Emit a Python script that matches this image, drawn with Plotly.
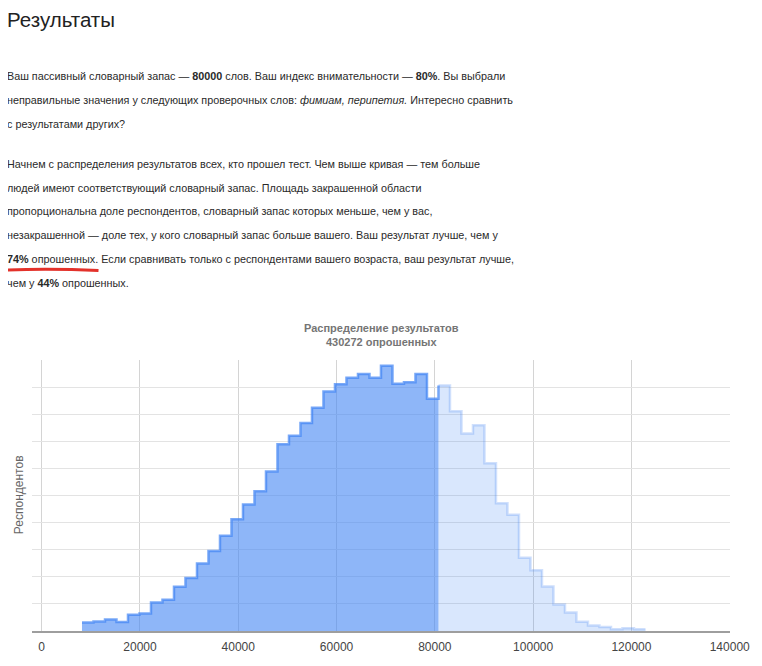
import numpy as np
import plotly.graph_objects as go

# ---------------- data ----------------
bin_start = 8200          # first bin left edge (words)
bin_width = 2340          # bin width (words)
respondents = [
    620, 700, 840, 660, 1200, 1300, 2100, 2300, 3260, 3920,
    4980, 5900, 7040, 8260, 9340, 10320, 11780, 13780, 14420, 15360,
    16480, 17680, 18220, 18700, 18980, 18700, 19580, 18260, 18360, 18980,
    17140, 18120, 16220, 14580, 15200, 12380, 9440, 8580, 5400, 4480,
    3280, 1960, 1360, 680, 400, 300, 120, 200, 120,
]
user_bins = 31            # bins below the user's result (shaded)
x_ticks = [0, 20000, 40000, 60000, 80000, 100000, 120000, 140000]
x_tick_labels = ["0", "20000", "40000", "60000", "80000", "100000", "120000", "140000"]

chart_title = "<b>Распределение результатов</b><br><b>430272 опрошенных</b>"
y_title = "Респондентов"

heading = "Результаты"
paragraph1 = [
    "Ваш пассивный словарный запас — <b>80000</b> слов. Ваш индекс внимательности — <b>80%</b>. Вы выбрали",
    "неправильные значения у следующих проверочных слов: <i>фимиам, перипетия.</i> Интересно сравнить",
    "с результатами других?",
]
paragraph2 = [
    "Начнем с распределения результатов всех, кто прошел тест. Чем выше кривая — тем больше",
    "людей имеют соответствующий словарный запас. Площадь закрашенной области",
    "пропорциональна доле респондентов, словарный запас которых меньше, чем у вас,",
    "незакрашенной — доле тех, у кого словарный запас больше вашего. Ваш результат лучше, чем у",
    "<b>74%</b> опрошенных. Если сравнивать только с респондентами вашего возраста, ваш результат лучше,",
    "чем у <b>44%</b> опрошенных.",
]

# ---------------- layout geometry (window px, page has 8px body margin) ----------------
OFF = 8
W, H = 762 - OFF, 666 - OFF
PX0, PX1, PY0, PY1 = 32, 730, 360, 632.7      # plot area in window px
ML, MR = PX0 - OFF, W - (PX1 - OFF)
MT, MB = PY0 - OFF, H - (PY1 - OFF)
PW, PH = PX1 - PX0, PY1 - PY0


def px_x(px):
    return (px - PX0) / PW


def px_y(py):
    return (PY1 - py) / PH


edges = bin_start + bin_width * np.arange(len(respondents) + 1)
vals = np.array(respondents, dtype=float)

x_dark = edges[: user_bins + 1]
y_dark = vals[: user_bins + 1]
x_light = edges[user_bins:]
y_light = np.append(vals[user_bins:], vals[-1])

fig = go.Figure()
fig.add_trace(go.Scatter(
    x=x_light, y=y_light, mode="lines", line_shape="hv",
    line=dict(color="rgba(66,133,244,0.25)", width=2.5),
    fill="tozeroy", fillcolor="rgba(66,133,244,0.2)",
    hoverinfo="skip", showlegend=False,
))
fig.add_trace(go.Scatter(
    x=x_dark, y=y_dark, mode="lines", line_shape="hv",
    line=dict(color="rgba(66,133,244,0.7)", width=2.5),
    fill="tozeroy", fillcolor="rgba(66,133,244,0.6)",
    hoverinfo="skip", showlegend=False,
))

chart_font = "Arial, Liberation Sans, sans-serif"
body_font = "Liberation Sans, Arial, sans-serif"

annotations = []
# chart title
annotations.append(dict(
    text=chart_title, x=px_x(381), y=px_y(335), xref="paper", yref="paper",
    xanchor="center", yanchor="middle", showarrow=False,
    font=dict(family=chart_font, size=11, color="#757575"),
))
# y-axis title
annotations.append(dict(
    text=y_title, x=px_x(19), y=px_y(496), xref="paper", yref="paper",
    xanchor="center", yanchor="middle", showarrow=False, textangle=-90,
    font=dict(family=chart_font, size=12, color="#666666"),
))
# heading
annotations.append(dict(
    text=heading, x=px_x(5), y=px_y(17), xref="paper", yref="paper",
    xanchor="left", yanchor="middle", showarrow=False,
    font=dict(family=body_font, size=20.5, color="#222222"),
))
line_y1 = [76, 100, 124]
line_y2 = [164, 188, 212, 236, 260, 284]
for txt, yy in zip(paragraph1 + paragraph2, line_y1 + line_y2):
    annotations.append(dict(
        text=txt, x=px_x(5), y=px_y(yy - 1.5), xref="paper", yref="paper",
        xanchor="left", yanchor="middle", showarrow=False,
        font=dict(family=body_font, size=10.8, color="#2a2a2a"),
    ))

# red underline under "74% опрошенных."
underline = dict(
    type="path", xref="paper", yref="paper",
    path=(f"M {px_x(3.5)},{px_y(269.5)} Q {px_x(50)},{px_y(267.5)} {px_x(98.5)},{px_y(270)}"),
    line=dict(color="#e3322b", width=3),
)

fig.update_layout(
    width=W, height=H,
    margin=dict(l=ML, r=MR, t=MT, b=MB, pad=0),
    paper_bgcolor="white", plot_bgcolor="white",
    font=dict(family=chart_font, size=12, color="#444444"),
    annotations=annotations,
    shapes=[underline],
    xaxis=dict(
        range=[-1973, 140060], tickvals=x_ticks, ticktext=x_tick_labels,
        showgrid=True, gridcolor="#d4d4d4", gridwidth=1, zeroline=False,
        ticks="outside", ticklen=4, tickcolor="rgba(0,0,0,0)",
        showline=True, linecolor="#9e9e9e", linewidth=1.5,
        tickfont=dict(family=chart_font, size=12, color="#444444"),
        fixedrange=True,
    ),
    yaxis=dict(
        range=[0, 20010], dtick=2000, showticklabels=False,
        showgrid=True, gridcolor="#e3e3e3", gridwidth=1, zeroline=False,
        fixedrange=True,
    ),
)

fig.write_html("out.html", config={"displayModeBar": False})
